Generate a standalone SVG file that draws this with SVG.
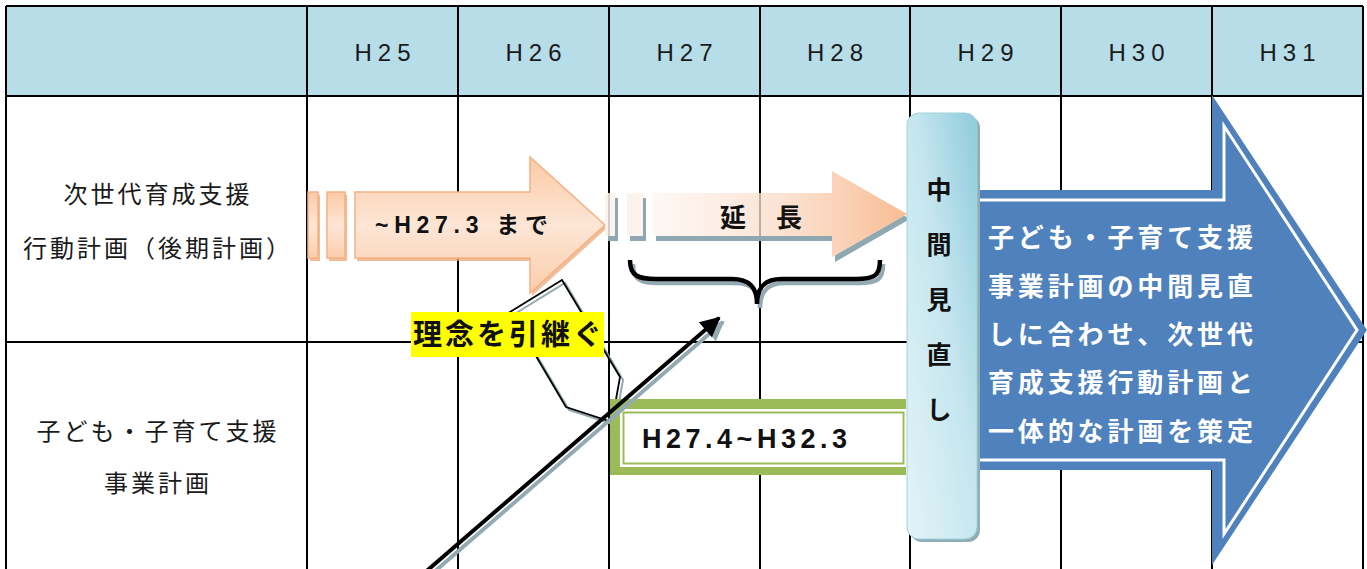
<svg xmlns="http://www.w3.org/2000/svg" width="1367" height="569" viewBox="0 0 1367 569">
<style>
text{font-family:"Liberation Sans","Noto Sans CJK JP",sans-serif;fill:#111;dominant-baseline:central}
.hd{font-size:24px;letter-spacing:6px;text-anchor:middle;fill:#1a1a1a}
.lb{font-size:24px;letter-spacing:3px;text-anchor:middle;fill:#1a1a1a}
.b{font-weight:bold}
.grid{stroke:#000;stroke-width:2;fill:none}
.wt{fill:#fff;font-weight:bold;font-size:26px}
.vc{font-weight:bold;font-size:25px;text-anchor:middle}
</style>
<defs>
<linearGradient id="g1" x1="0" y1="0" x2="0" y2="1">
<stop offset="0" stop-color="#fbcaa4"/><stop offset="0.5" stop-color="#fde6d6"/><stop offset="1" stop-color="#fbcdab"/>
</linearGradient>
<linearGradient id="g2" x1="0" y1="0" x2="1" y2="0">
<stop offset="0" stop-color="#fdf1ea" stop-opacity="0.55"/><stop offset="0.5" stop-color="#fbdcc8" stop-opacity="0.8"/><stop offset="1" stop-color="#f8bc92"/>
</linearGradient>
<linearGradient id="g3" x1="1" y1="0" x2="0" y2="1">
<stop offset="0" stop-color="#8fcbdb"/><stop offset="0.45" stop-color="#c5e6ef"/><stop offset="1" stop-color="#e3f3f7"/>
</linearGradient>
<marker id="ah" viewBox="0 0 10 10" refX="9" refY="5" markerWidth="5.5" markerHeight="5" orient="auto" markerUnits="strokeWidth">
<path d="M0,0 L10,5 L0,10 Z" fill="#000"/>
</marker>
<marker id="ahs" viewBox="0 0 10 10" refX="9" refY="5" markerWidth="5.5" markerHeight="5" orient="auto" markerUnits="strokeWidth">
<path d="M0,0 L10,5 L0,10 Z" fill="#93aab3"/>
</marker>
<mask id="m2">
<rect x="0" y="0" width="1367" height="569" fill="#fff"/>
<path d="M653,193 L832,193 L832,171 L907,214 L832,257 L832,236 L653,236 Z" fill="#000"/>
<rect x="605" y="193" width="10" height="43" fill="#000"/>
<rect x="627" y="193" width="16" height="43" fill="#000"/>
</mask>
</defs>

<g id="table">
<rect x="6" y="6" width="1357" height="90" fill="#b7dde8"/>
<path class="grid" d="M6,6 H1363 M6,96 H1363 M6,342 H1363 M6,6 V575 M307,6 V575 M458,6 V575 M609,6 V575 M760,6 V575 M910,6 V575 M1061,6 V575 M1212,6 V575 M1363,6 V575"/>
<text class="hd" x="385.5" y="52.5">H25</text>
<text class="hd" x="536.5" y="52.5">H26</text>
<text class="hd" x="687.5" y="52.5">H27</text>
<text class="hd" x="838" y="52.5">H28</text>
<text class="hd" x="988.5" y="52.5">H29</text>
<text class="hd" x="1139.5" y="52.5">H30</text>
<text class="hd" x="1290.5" y="52.5">H31</text>
<text class="lb" x="158" y="194">次世代育成支援</text>
<text class="lb" x="158" y="248">行動計画（後期計画）</text>
<text class="lb" x="158" y="431">子ども・子育て支援</text>
<text class="lb" x="158" y="483">事業計画</text>
</g>

<g id="arrow-h27">
<g fill="#eda777" opacity="0.75" transform="translate(2,3)">
<rect x="308" y="192" width="10" height="66"/>
<rect x="327" y="192" width="18" height="66"/>
<path d="M355,192 L530,192 L530,157 L605,225 L530,293 L530,258 L355,258 Z"/>
</g>
<g fill="url(#g1)" stroke="#f4b183" stroke-width="1.5">
<rect x="308" y="192" width="10" height="66"/>
<rect x="327" y="192" width="18" height="66"/>
<path d="M355,192 L530,192 L530,157 L605,225 L530,293 L530,258 L355,258 Z"/>
</g>
<text class="b" x="375" y="225" font-size="23" textLength="173" lengthAdjust="spacing">~H27.3 まで</text>
</g>

<g id="arrow-extend">
<g fill="#8fa7b0" mask="url(#m2)">
<g transform="translate(3,5)">
<rect x="605" y="193" width="10" height="43"/>
<rect x="627" y="193" width="16" height="43"/>
<path d="M653,193 L832,193 L832,171 L907,214 L832,257 L832,236 L653,236 Z"/>
</g>
</g>
<rect x="605" y="193" width="10" height="43" fill="#fdf1ea" opacity="0.85"/>
<rect x="627" y="193" width="16" height="43" fill="#fdf1ea" opacity="0.85"/>
<path d="M653,193 L832,193 L832,171 L907,214 L832,257 L832,236 L653,236 Z" fill="url(#g2)"/>
<text class="b" x="720" y="218" font-size="26" letter-spacing="2">延　長</text>
</g>

<g id="brace">
<path d="M630,260 C630,276 638,279 656,279 L732,279 C750,279 757,288 757,304 C757,288 764,279 782,279 L856,279 C874,279 880,276 880,260" fill="none" stroke="#93aab3" stroke-width="4.5" transform="translate(3,4)"/>
<path d="M630,260 C630,276 638,279 656,279 L732,279 C750,279 757,288 757,304 C757,288 764,279 782,279 L856,279 C874,279 880,276 880,260" fill="none" stroke="#000" stroke-width="4.5"/>
</g>

<g id="callout">
<polygon points="510,312 562,280 620,377 612,422 566,407" fill="none" stroke="#93aab3" stroke-width="2" transform="translate(3,3)"/>
<polygon points="510,312 562,280 620,377 612,422 566,407" fill="none" stroke="#000" stroke-width="1.8"/>
<rect x="411" y="312" width="193" height="45" fill="#ffff00"/>
<text class="b" x="413" y="335" font-size="29" textLength="189" lengthAdjust="spacing">理念を引継ぐ</text>
</g>

<g id="green-box">
<rect x="610" y="399" width="296" height="76" fill="#9bbb59"/>
<rect x="620" y="409" width="286" height="58" fill="#fff"/>
<rect x="623.5" y="412.5" width="280" height="51" fill="none" stroke="#9bbb59" stroke-width="2"/>
<text class="b" x="642" y="439" font-size="27" textLength="205" lengthAdjust="spacing">H27.4~H32.3</text>
</g>

<g id="connectors">
<line x1="422" y1="575" x2="719" y2="318" stroke="#93aab3" stroke-width="4" marker-end="url(#ahs)" transform="translate(4,4)"/>
<line x1="422" y1="575" x2="719" y2="318" stroke="#000" stroke-width="4" marker-end="url(#ah)"/>
</g>

<g id="blue-arrow">
<path d="M977,190 L1212,190 L1212,95 L1367,330 L1212,565 L1212,470 L977,470 Z" fill="#4f81bd"/>
<path d="M977,200 L1224,200 L1224,126 L1357,330 L1224,534 L1224,460 L977,460" fill="none" stroke="#fff" stroke-width="3"/>
<text class="wt" x="988" y="238" textLength="265" lengthAdjust="spacing">子ども・子育て支援</text>
<text class="wt" x="988" y="287" textLength="265" lengthAdjust="spacing">事業計画の中間見直</text>
<text class="wt" x="988" y="335" textLength="265" lengthAdjust="spacing">しに合わせ、次世代</text>
<text class="wt" x="988" y="383" textLength="265" lengthAdjust="spacing">育成支援行動計画と</text>
<text class="wt" x="988" y="432" textLength="265" lengthAdjust="spacing">一体的な計画を策定</text>
</g>

<g id="midterm-bar">
<rect x="910" y="116" width="70" height="426" rx="12" fill="#8fadb7"/>
<rect x="907" y="113" width="70" height="426" rx="12" fill="url(#g3)" stroke="#9fd2de" stroke-width="1"/>
<text class="vc" x="939" y="190">中</text>
<text class="vc" x="939" y="245">間</text>
<text class="vc" x="939" y="300">見</text>
<text class="vc" x="939" y="355">直</text>
<text class="vc" x="939" y="410">し</text>
</g>
</svg>
